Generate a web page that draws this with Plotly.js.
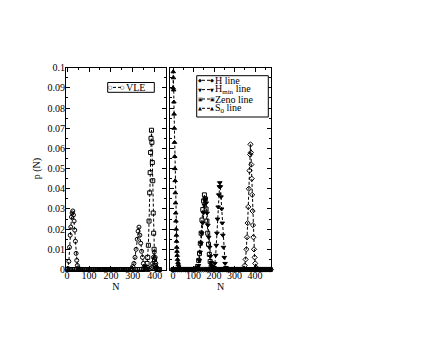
<!DOCTYPE html>
<html>
<head>
<meta charset="utf-8">
<script src="https://cdn.plot.ly/plotly-3.0.1.min.js"></script>
<style>
  body { margin: 0; background: #fff; }
  #plot { width: 436px; height: 337px; }
</style>
</head>
<body>
<div id="plot"></div>
<script>
// left panel - VLE
var vleN = [0, 4, 8, 11, 14, 17, 20, 23, 26, 29, 32, 35, 38, 41, 44, 47, 51, 56,
    64, 72, 80, 88, 96, 104, 112, 120, 128, 136, 144, 152, 160, 168, 176, 184, 192, 200, 208, 216, 224, 232, 240, 248, 256, 264, 272, 280, 288,
    294, 300, 305, 310, 315, 320, 324, 328, 332, 336, 340, 344, 348, 352, 357, 362, 368, 374, 380, 386, 390, 394, 398, 402, 405, 408, 412, 416];
var vleP = [0, 0.0005, 0.004, 0.011, 0.017, 0.021, 0.026, 0.028, 0.029, 0.027, 0.024, 0.0195, 0.014, 0.008, 0.0045, 0.002, 0.0008, 0.0002,
    0, 0, 0, 0, 0, 0, 0, 0, 0, 0, 0, 0, 0, 0, 0, 0, 0, 0, 0, 0, 0, 0, 0, 0, 0, 0, 0, 0, 0,
    0.0005, 0.0015, 0.003, 0.006, 0.01, 0.015, 0.019, 0.021, 0.017, 0.013, 0.009, 0.006, 0.003, 0.0015, 0.0005, 0, 0, 0, 0.0005, 0.001, 0.003, 0.006, 0.0086, 0.006, 0.003, 0.001, 0, 0];

var vle2N = [2, 10, 18, 26, 34, 42, 50, 60, 70, 80, 90, 100, 110, 120, 130, 140, 150, 160, 170, 180, 190, 200, 210, 220, 230, 240, 250, 260, 270, 280, 290, 300, 310, 320, 330, 340, 348,
    355, 360, 365, 368, 371, 374, 377, 379, 381, 383, 385, 387, 389, 391, 393, 395, 397, 399, 402, 405, 410, 416, 422];
var vle2P = [0, 0, 0, 0, 0, 0, 0, 0, 0, 0, 0, 0, 0, 0, 0, 0, 0, 0, 0, 0, 0, 0, 0, 0, 0, 0, 0, 0, 0, 0, 0, 0, 0, 0, 0, 0, 0,
    0.0005, 0.001, 0.003, 0.006, 0.012, 0.024, 0.038, 0.048, 0.058, 0.065, 0.069, 0.063, 0.053, 0.044, 0.028, 0.018, 0.01, 0.005, 0.002, 0.0005, 0, 0, 0];

// right panel
var s0N = [0, 1, 2, 3, 4, 5, 6, 7, 8, 9, 10, 11, 12, 13, 14, 15, 16, 17, 18, 19, 20, 22, 24, 26, 28, 30, 33, 36, 40, 45, 52,
    60, 70, 80, 90, 100, 110, 120, 130, 140, 150, 160, 170, 180, 190, 200, 210, 220, 230, 240, 250, 260, 270, 280, 290, 300, 310, 320, 330, 340, 350, 360, 370, 380, 390, 400, 410, 420, 430, 440, 450, 460, 470, 480];
var s0P = [0.09, 0.098, 0.095, 0.089, 0.083, 0.077, 0.07, 0.063, 0.056, 0.05, 0.044, 0.038, 0.033, 0.028, 0.024, 0.02, 0.017, 0.014, 0.011, 0.009, 0.007, 0.005, 0.0035, 0.0025, 0.0015, 0.001, 0.0005, 0.0002, 0, 0, 0,
    0, 0, 0, 0, 0, 0, 0, 0, 0, 0, 0, 0, 0, 0, 0, 0, 0, 0, 0, 0, 0, 0, 0, 0, 0, 0, 0, 0, 0, 0, 0, 0, 0, 0, 0, 0, 0, 0, 0, 0, 0, 0, 0];

var zenoN = [0, 10, 20, 30, 40, 50, 60, 70, 80, 90, 100, 108,
    115, 120, 125, 129, 133, 137, 141, 145, 149, 153, 157, 161, 165, 169, 173, 177, 181, 186, 191, 197,
    205, 215, 225, 235, 245, 255, 265, 275, 285, 295, 305, 315, 325, 335, 345, 355, 365, 375, 385, 395, 405, 415, 425, 435, 445, 455, 465, 475];
var zenoP = [0, 0, 0, 0, 0, 0, 0, 0, 0, 0, 0, 0,
    0.0005, 0.0015, 0.0045, 0.008, 0.013, 0.018, 0.0245, 0.0297, 0.034, 0.037, 0.035, 0.03, 0.024, 0.018, 0.0125, 0.0075, 0.004, 0.0015, 0.0005, 0,
    0, 0, 0, 0, 0, 0, 0, 0, 0, 0, 0, 0, 0, 0, 0, 0, 0, 0, 0, 0, 0, 0, 0, 0, 0, 0, 0, 0];

var hminN = [0, 10, 20, 30, 40, 50, 60, 70, 80, 90, 100, 110,
    118, 124, 128, 132, 136, 140, 144, 148, 152, 156, 159, 162, 166, 170, 174, 178, 182, 186, 190, 195,
    200, 204, 208, 211, 214, 217, 220, 223, 226, 228, 231, 234, 237, 240, 243, 246, 250, 254, 258, 264,
    272, 282, 292, 302, 312, 322, 332, 342, 352, 362, 372, 382, 392, 402, 412, 422, 432, 442, 452, 462, 472];
var hminP = [0, 0, 0, 0, 0, 0, 0, 0, 0, 0, 0, 0,
    0.0005, 0.002, 0.0045, 0.0086, 0.013, 0.018, 0.023, 0.028, 0.032, 0.0345, 0.035, 0.033, 0.028, 0.022, 0.016, 0.011, 0.0065, 0.0035, 0.0015, 0.0008,
    0.001, 0.003, 0.007, 0.012, 0.018, 0.025, 0.031, 0.037, 0.041, 0.043, 0.041, 0.036, 0.03, 0.023, 0.017, 0.011, 0.006, 0.003, 0.001, 0,
    0, 0, 0, 0, 0, 0, 0, 0, 0, 0, 0, 0, 0, 0, 0, 0, 0, 0, 0, 0, 0];

var hN = [0, 10, 20, 30, 40, 50, 60, 70, 80, 90, 100, 110, 120, 130, 140, 150, 160, 170, 180, 190, 200, 210, 220, 230, 240, 250, 260, 270, 280, 290, 300, 310, 320, 330, 338,
    345, 350, 354, 358, 361, 364, 367, 370, 373, 376, 378, 380, 382, 384, 386, 388, 390, 392, 395, 398, 401, 405, 410,
    418, 428, 438, 448, 458, 468, 478];
var hP = [0, 0, 0, 0, 0, 0, 0, 0, 0, 0, 0, 0, 0, 0, 0, 0, 0, 0, 0, 0, 0, 0, 0, 0, 0, 0, 0, 0, 0, 0, 0, 0, 0, 0, 0,
    0.0005, 0.002, 0.005, 0.01, 0.016, 0.023, 0.031, 0.04, 0.049, 0.057, 0.062, 0.058, 0.052, 0.045, 0.037, 0.029, 0.022, 0.016, 0.01, 0.006, 0.003, 0.001, 0,
    0, 0, 0, 0, 0, 0, 0];

// legend labels and key glyphs
var leftNames = ['VLE'];
var leftGlyphs = ['\u25CB'];
var rightNames = ['H line', 'H<sub>min</sub> line', 'Zeno line', 'S<sub>0</sub> line'];
var rightGlyphs = ['\u25C6', '\u25BC', '\u25A3', '\u25B2'];

[[vleN, vleP], [vle2N, vle2P], [s0N, s0P], [zenoN, zenoP], [hminN, hminP], [hN, hP]].forEach(function (p, i) {
    if (p[0].length !== p[1].length) throw new Error('series ' + i + ': ' + p[0].length + ' vs ' + p[1].length);
});

var serif = 'Liberation Serif, Times New Roman, serif';
var W = 436, H = 337;

function series(name, x, y, symbol, xa, ya) {
    return {
        name: name,
        x: x,
        y: y,
        xaxis: xa,
        yaxis: ya,
        showlegend: false,
        type: 'scatter',
        mode: 'lines+markers',
        cliponaxis: false,
        line: { color: '#000', width: 1, dash: '3px,2px' },
        marker: { symbol: symbol, size: 4, color: '#000', line: { color: '#000', width: 1 } }
    };
}

var data = [
    series('VLE', vleN, vleP, 'circle-open', 'x', 'y'),
    series('VLE', vle2N, vle2P, 'square-open', 'x', 'y'),
    series('H line', hN, hP, 'diamond-open', 'x2', 'y2'),
    series('Hmin line', hminN, hminP, 'triangle-down', 'x2', 'y2'),
    series('Zeno line', zenoN, zenoP, 'square-open', 'x2', 'y2'),
    series('S0 line', s0N, s0P, 'triangle-up', 'x2', 'y2')
];

function xAxis(dom, range, anchor) {
    return {
        domain: [dom[0] / W, dom[1] / W],
        anchor: anchor,
        range: range,
        tick0: 0,
        dtick: 100,
        ticks: 'inside',
        ticklen: 4,
        tickcolor: '#000',
        ticklabelstandoff: -4,
        showline: true,
        linecolor: '#000',
        linewidth: 1,
        mirror: 'allticks',
        showgrid: false,
        zeroline: false,
        minor: { ticks: 'inside', dtick: 50, ticklen: 2, tickcolor: '#000', showgrid: false },
        tickfont: { family: serif, size: 10, color: '#000' },
        title: { text: 'N', font: { family: serif, size: 10, color: '#000' }, standoff: 0 }
    };
}

function yAxis(anchor, labels) {
    return {
        domain: [1 - 269.5 / H, 1 - 67.7 / H],
        anchor: anchor,
        range: [0, 0.1],
        tick0: 0,
        dtick: 0.01,
        ticks: 'inside',
        ticklen: 4,
        tickcolor: '#000',
        ticklabelstandoff: -2,
        showline: true,
        linecolor: '#000',
        linewidth: 1,
        mirror: 'allticks',
        showgrid: false,
        zeroline: false,
        showticklabels: labels,
        minor: { ticks: 'inside', dtick: 0.005, ticklen: 2, tickcolor: '#000', showgrid: false },
        tickfont: { family: serif, size: 10, color: '#000' }
    };
}

// hand-made legend boxes (the built-in legend is too tall for this chart)
var shapes = [];
var annotations = [];

function px(x) { return x / W; }
function py(y) { return 1 - y / H; }

function legendBox(x0, y0, x1, y1, names, glyphs, rows, keyX) {
    shapes.push({
        type: 'rect', xref: 'paper', yref: 'paper',
        x0: px(x0), x1: px(x1), y0: py(y0), y1: py(y1),
        line: { color: '#000', width: 1 }, fillcolor: '#fff', layer: 'above'
    });
    names.forEach(function (name, i) {
        var y = rows[i];
        shapes.push({
            type: 'line', xref: 'paper', yref: 'paper',
            x0: px(keyX + 2), x1: px(keyX + 10), y0: py(y), y1: py(y),
            line: { color: '#000', width: 1, dash: '3px,2px' }, layer: 'above'
        });
        [keyX, keyX + 12].forEach(function (gx) {
            annotations.push({
                xref: 'paper', yref: 'paper', x: px(gx), y: py(y),
                xanchor: 'center', yanchor: 'middle', showarrow: false,
                text: glyphs[i], borderpad: 0,
                font: { family: 'DejaVu Sans', size: 5, color: '#000' }
            });
        });
        annotations.push({
            xref: 'paper', yref: 'paper', x: px(keyX + 14), y: py(y),
            xanchor: 'left', yanchor: 'middle', showarrow: false,
            text: name, borderpad: 0,
            font: { family: serif, size: 10, color: '#000' }
        });
    });
}

legendBox(107.7, 82.5, 154.3, 92.3, leftNames, leftGlyphs, [87.4], 111);
legendBox(196.7, 75.7, 268.3, 117, rightNames, rightGlyphs, [80.3, 89.6, 99, 108.3], 200);

var layout = {
    width: W,
    height: H,
    margin: { l: 0, r: 0, t: 0, b: 0 },
    paper_bgcolor: '#fff',
    plot_bgcolor: '#fff',
    font: { family: serif, size: 10, color: '#000' },
    showlegend: false,
    xaxis: xAxis([66, 165.7], [-5, 450], 'y'),
    xaxis2: xAxis([170, 271], [-15, 478], 'y2'),
    yaxis: yAxis('x', true),
    yaxis2: yAxis('x2', false),
    shapes: shapes,
    annotations: annotations
};
layout.yaxis.title = { text: 'p (N)', font: { family: serif, size: 10, color: '#000' }, standoff: 4 };
layout.yaxis2.matches = 'y';

Plotly.newPlot('plot', data, layout, { displayModeBar: false, staticPlot: true });
</script>
</body>
</html>
